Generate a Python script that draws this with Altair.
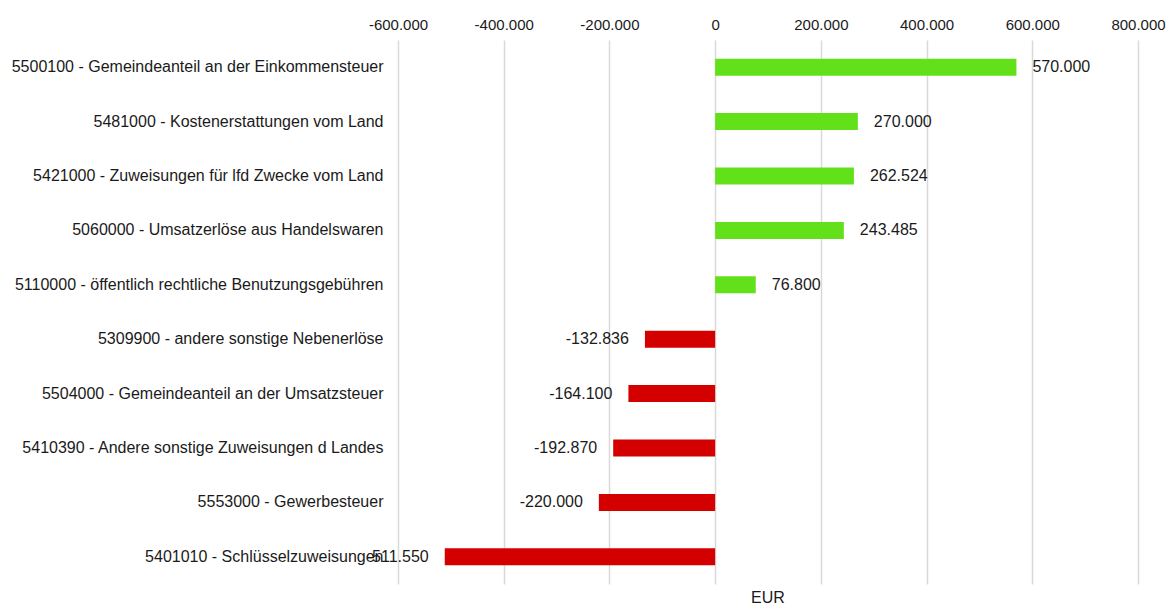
import altair as alt
import pandas as pd

categories = [
    "5500100 - Gemeindeanteil an der Einkommensteuer",
    "5481000 - Kostenerstattungen vom Land",
    "5421000 - Zuweisungen für lfd Zwecke vom Land",
    "5060000 - Umsatzerlöse aus Handelswaren",
    "5110000 - öffentlich rechtliche Benutzungsgebühren",
    "5309900 - andere sonstige Nebenerlöse",
    "5504000 - Gemeindeanteil an der Umsatzsteuer",
    "5410390 - Andere sonstige Zuweisungen d Landes",
    "5553000 - Gewerbesteuer",
    "5401010 - Schlüsselzuweisungen",
]
values = [570000, 270000, 262524, 243485, 76800, -132836, -164100, -192870, -220000, -511550]
tick_values = [-600000, -400000, -200000, 0, 200000, 400000, 600000, 800000]

df = pd.DataFrame({"cat": categories, "val": values})
df["sign"] = ["pos" if v >= 0 else "neg" for v in values]

font = "Liberation Sans"
txt = "#1a1a1a"

base = alt.Chart(df).encode(
    y=alt.Y("cat:N", sort=categories, title=None,
            axis=alt.Axis(labelFontSize=16, labelPadding=15, labelColor=txt,
                          labelFont=font, domain=False, ticks=False, grid=False,
                          labelLimit=600)),
)

bars = base.mark_bar(height=17).encode(
    x=alt.X("val:Q", title=None,
            scale=alt.Scale(domain=[-600000, 800000], nice=False),
            axis=alt.Axis(orient="top", values=tick_values, labelFlush=False,
                          format=",d", labelFontSize=15, labelFont=font, labelColor=txt,
                          domain=False, ticks=False, grid=True, gridColor="#d9d9d9",
                          gridWidth=1.5, labelPadding=8)),
    color=alt.Color("sign:N", scale=alt.Scale(domain=["pos", "neg"], range=["#62e01a", "#d40000"]),
                    legend=None),
)

pos_text = base.transform_filter("datum.val >= 0").mark_text(
    align="left", dx=16, fontSize=16, font=font, color=txt
).encode(x="val:Q", text=alt.Text("val:Q", format=",d"))

neg_text = base.transform_filter("datum.val < 0").mark_text(
    align="right", dx=-16, fontSize=16, font=font, color=txt
).encode(x="val:Q", text=alt.Text("val:Q", format=",d"))

chart = alt.layer(bars, pos_text, neg_text).properties(
    width=740, height=544,
    title=alt.TitleParams("EUR", orient="bottom", fontSize=16, fontWeight="normal",
                          font=font, color=txt, offset=6),
).configure(
    locale={"number": {"decimal": ",", "thousands": ".", "grouping": [3],
                       "currency": ["", " €"], "minus": "-"}},
    padding={"left": 3, "top": 9, "right": 0, "bottom": 0},
).configure_view(stroke=None)

chart.save("out.html", embed_options={"renderer": "svg", "actions": False})
